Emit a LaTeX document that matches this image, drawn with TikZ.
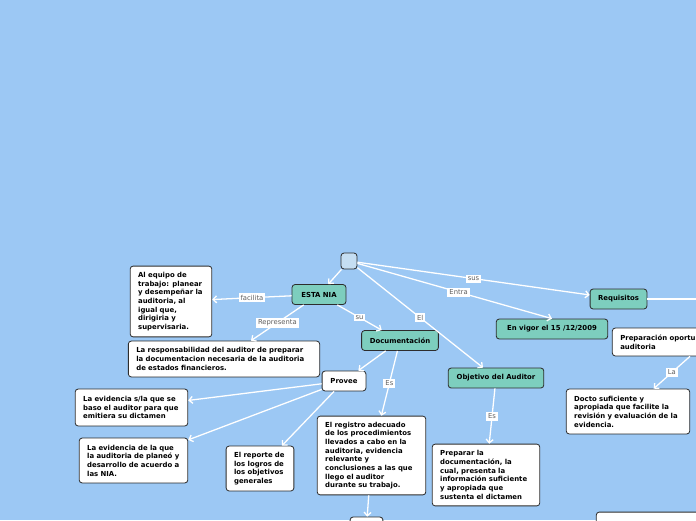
\documentclass[tikz,border=0pt]{standalone}
\usepackage{fontspec}
\setmainfont{DejaVu Sans}
\usetikzlibrary{arrows.meta, positioning}
\definecolor{bgblue}{RGB}{156,200,244}
\definecolor{nodeteal}{RGB}{125,206,190}
\definecolor{rootfill}{RGB}{197,222,242}
\definecolor{edge}{RGB}{45,45,45}
\definecolor{lblgray}{RGB}{95,95,95}

\begin{document}
\begin{tikzpicture}[x=0.03cm, y=-0.03cm,
    box/.style={draw=edge, line width=0.7pt, rounded corners=2.5pt, fill=white, align=left,
        inner xsep=6.8pt, inner ysep=3pt, font=\fontsize{5.9}{7.4}\selectfont\bfseries},
    mainbox/.style={box, fill=nodeteal, align=center, inner xsep=3pt, minimum height=17pt},
    lbl/.style={fill=white, text=lblgray, inner sep=1.7pt, font=\fontsize{5.8}{6.5}\selectfont},
    conn/.style={draw=white, line width=1.1pt, -{Straight Barb[length=3pt, width=6pt]}}]
    \useasboundingbox[fill=bgblue] (0,0) rectangle (696,520);

    % Central topic
    \node[draw=edge, line width=0.7pt, fill=rootfill, rounded corners=2.5pt, minimum size=13.6pt, inner sep=0pt] (root) at (349,261) {};

    % Main topics
    \node[mainbox, minimum width=46pt] (nia) at (319,294.5) {ESTA NIA};
    \node[mainbox, minimum width=65.5pt] (doc) at (400,340.5) {Documentación};
    \node[mainbox, minimum width=81.6pt] (obj) at (496,378) {Objetivo del Auditor};
    \node[mainbox, minimum width=95.2pt] (vigor) at (552,329) {En vigor el 15 /12/2009};
    \node[mainbox, minimum width=48.5pt] (req) at (618.5,299) {Requisitos};
    \coordinate (reqout) at (700,299);

    % Subtopics
    \node[box, text width=56.1pt, minimum height=60.4pt] (equipo) at (171,301.5) {Al equipo de\\trabajo: planear\\y desempeñar la\\auditoria, al\\igual que,\\dirigiria y\\supervisaria.};
    \node[box, text width=149.7pt, minimum height=30.6pt] (resp) at (224,359) {La responsabilidad del auditor de preparar\\la documentacion necesaria de la auditoria\\de estados financieros.};
    \node[box, align=center, inner xsep=3pt, minimum width=37.4pt, minimum height=17pt] (provee) at (344,381) {Provee};
    \node[box, text width=82.5pt, minimum height=31.5pt] (evid1) at (131.5,407.5) {La evidencia s/la que se\\baso el auditor para que\\emitiera su dictamen};
    \node[box, text width=79.1pt, minimum height=38.3pt] (evid2) at (133.5,460.5) {La evidencia de la que\\la auditoria de planeó y\\desarrollo de acuerdo a\\las NIA.};
    \node[box, text width=44.2pt, minimum height=38.3pt] (reporte) at (260,468.5) {El reporte de\\los logros de\\los objetivos\\generales};
    \node[box, text width=79.1pt, minimum height=67.2pt] (registro) at (371.5,455.5) {El registro adecuado\\de los procedimientos\\llevados a cabo en la\\auditoria, evidencia\\relevante y\\conclusiones a las que\\llego el auditor\\durante su trabajo.};
    \node[box, minimum width=28pt, minimum height=17pt] (extra) at (366.5,527) {};
    \node[box, text width=78.2pt, minimum height=52.7pt] (preparar) at (486,475) {Preparar la\\documentación, la\\cual, presenta la\\información suficiente\\y apropiada que\\sustenta el dictamen};
    \node[box, text width=119pt, minimum height=23.8pt] (oportuna) at (690,342) {Preparación oportuna\\auditoria};
    \node[box, text width=91.8pt, minimum height=38.3pt] (docto) at (628,411.5) {Docto suficiente y\\apropiada que facilite la\\revisión y evaluación de la\\evidencia.};
    \node[box, minimum width=119pt, minimum height=34pt] (audit) at (666,532) {};

    % Connectors from the central topic
    \draw[conn] (root) -- (nia);
    \draw[conn] (root) -- node[lbl, pos=0.5] {El} (obj);
    \draw[conn] (root) -- node[lbl, pos=0.5] {sus} (req);
    \draw[conn] (root) -- node[lbl, pos=0.52] {Entra} (vigor.north);
    \draw[draw=white, line width=1.1pt] (req) -- (reqout);

    % Connectors from ESTA NIA
    \draw[conn] (nia) -- node[lbl] {facilita} (equipo);
    \draw[conn] (nia) -- node[lbl] {Representa} (resp);
    \draw[conn] (nia) -- node[lbl] {su} (doc);

    % Connectors from Documentacion
    \draw[conn] (doc) -- (provee);
    \draw[conn] (doc) -- node[lbl] {Es} (registro);
    \draw[conn] (provee) -- (evid1);
    \draw[conn] (provee) -- (evid2);
    \draw[conn] (provee) -- (reporte);
    \draw[conn] (registro) -- (extra);

    % Other branches
    \draw[conn] (obj) -- node[lbl] {Es} (preparar);
    \draw[conn] (oportuna.south) -- node[lbl] {La} (docto);
\end{tikzpicture}
\end{document}
